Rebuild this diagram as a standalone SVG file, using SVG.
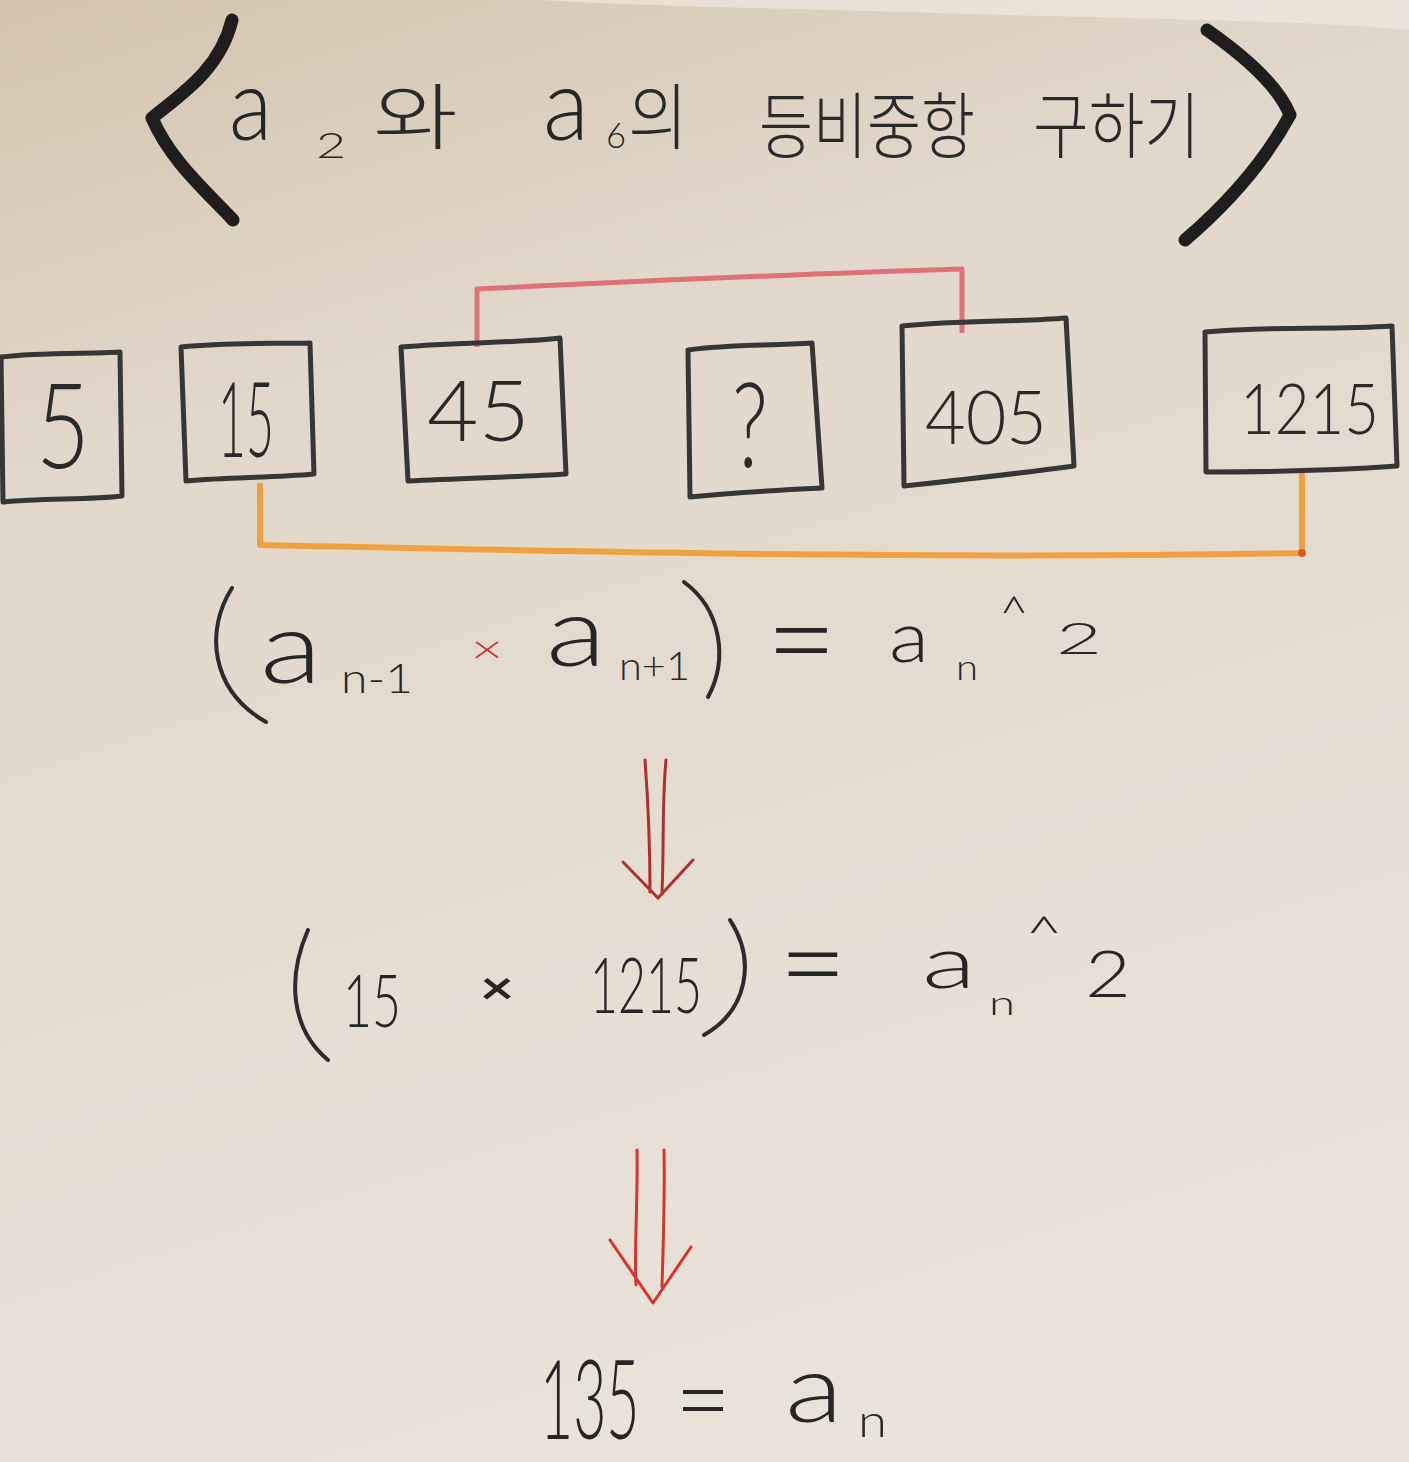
<svg xmlns="http://www.w3.org/2000/svg" width="1409" height="1462" viewBox="0 0 1409 1462">
<defs>
<linearGradient id="paper" x1="0" y1="0" x2="0.3" y2="1">
<stop offset="0" stop-color="#d4c4ae"/>
<stop offset="0.3" stop-color="#e1d7ca"/>
<stop offset="1" stop-color="#e9e2d9"/>
</linearGradient>
<style>
.box{fill:none;stroke:#363636;stroke-width:5;stroke-linejoin:round}
.num{font-family:"Lato","Liberation Sans",sans-serif;font-weight:300;fill:#2a2a2a}
.ko{font-family:"Noto Sans CJK KR",sans-serif;font-weight:300;font-size:72px;fill:#2a2a2a}
.eq{font-family:"Lato","Liberation Sans",sans-serif;font-weight:300;fill:#262626}
.red{fill:#c8342c}
.bold{font-weight:700}
.brk{fill:none;stroke:#1e1e1e;stroke-width:13;stroke-linecap:round;stroke-linejoin:round}
.paren{fill:none;stroke:#2c2c2c;stroke-width:4;stroke-linecap:round}
.arr{fill:none;stroke-width:3;stroke-linecap:round;stroke-linejoin:round}
</style>
</defs>
<rect width="1409" height="1462" fill="url(#paper)"/>
<path d="M540 0 H1409 V30 C1300 20 1100 18 900 12 C760 8 640 6 540 0Z" fill="#efe8e0" opacity="0.7"/>

<g id="title">
<path class="brk" d="M232 20 C220 70 180 95 152 118 C170 160 205 190 233 220"/>
<path class="brk" d="M1207 30 C1250 60 1280 90 1290 115 C1260 170 1220 210 1185 240"/>
<text class="eq" x="229" y="140" font-size="100" textLength="43" lengthAdjust="spacingAndGlyphs">a</text>
<text class="eq" x="316" y="158" font-size="36" textLength="30" lengthAdjust="spacingAndGlyphs">2</text>
<text class="ko" x="373" y="143" textLength="85" lengthAdjust="spacingAndGlyphs">와</text>
<text class="eq" x="543" y="140" font-size="100" textLength="46" lengthAdjust="spacingAndGlyphs">a</text>
<text class="eq" x="606" y="148" font-size="36" textLength="20" lengthAdjust="spacingAndGlyphs">6</text>
<text class="ko" x="628" y="143" textLength="60" lengthAdjust="spacingAndGlyphs">의</text>
<text class="ko" x="759" y="152" textLength="216" lengthAdjust="spacingAndGlyphs">등비중항</text>
<text class="ko" x="1033" y="152" textLength="167" lengthAdjust="spacingAndGlyphs">구하기</text>
</g>

<g id="connectors">
<path d="M477 347 V289 C600 283 800 274 962 269 V333" fill="none" stroke="#e0707a" stroke-width="5" stroke-linejoin="round"/>
<path d="M260 483 V545 C500 550 900 560 1302 553 V468" fill="none" stroke="#f0a040" stroke-width="6" stroke-linejoin="round"/>
<circle cx="1302" cy="553" r="4" fill="#d85a20"/>
</g>

<g id="n5">
<path class="box" d="M1 357 C40 352 90 354 120 352 L122 496 C90 500 40 498 3 502 Z"/>
<text class="num" x="36" y="468" font-size="118" textLength="54" lengthAdjust="spacingAndGlyphs">5</text>
</g>
<g id="n15">
<path class="box" d="M181 347 C230 342 270 344 310 343 L314 474 C270 478 230 477 186 481 Z"/>
<text class="num" x="218" y="457" font-size="104" textLength="56" lengthAdjust="spacingAndGlyphs">15</text>
</g>
<g id="n45">
<path class="box" d="M401 347 C460 342 520 343 560 338 L566 474 C520 477 460 478 408 481 Z"/>
<text class="num" x="427" y="441" font-size="84" textLength="103" lengthAdjust="spacingAndGlyphs">45</text>
</g>
<g id="nq">
<path class="box" d="M688 350 C730 344 770 346 812 343 L822 488 C780 490 730 493 690 497 Z"/>
<text class="num" x="732" y="467" font-size="118" textLength="36" lengthAdjust="spacingAndGlyphs">?</text>
</g>
<g id="n405">
<path class="box" d="M902 326 C960 320 1020 322 1066 318 L1074 466 C1030 472 960 480 904 486 Z"/>
<text class="num" x="925" y="444" font-size="74" textLength="122" lengthAdjust="spacingAndGlyphs">405</text>
</g>
<g id="n1215">
<path class="box" d="M1205 332 C1270 326 1330 330 1392 326 L1397 466 C1340 470 1270 472 1206 472 Z"/>
<text class="num" x="1240" y="434" font-size="70" textLength="139" lengthAdjust="spacingAndGlyphs">1215</text>
</g>

<g id="eq1">
<path class="paren" d="M232 588 C205 630 210 690 266 722"/>
<text class="eq" x="260" y="683" font-size="100" textLength="62" lengthAdjust="spacingAndGlyphs">a</text>
<text class="eq" x="341" y="693" font-size="42" textLength="72" lengthAdjust="spacingAndGlyphs">n-1</text>
<text class="eq red" x="471" y="663" font-size="40" textLength="32" lengthAdjust="spacingAndGlyphs">×</text>
<text class="eq" x="546" y="666" font-size="96" textLength="60" lengthAdjust="spacingAndGlyphs">a</text>
<text class="eq" x="619" y="680" font-size="40" textLength="71" lengthAdjust="spacingAndGlyphs">n+1</text>
<path class="paren" d="M684 582 C722 610 728 660 708 697" stroke-width="4.5"/>
<text class="eq" x="766" y="684" font-size="130" textLength="71" lengthAdjust="spacingAndGlyphs">=</text>
<text class="eq" x="889" y="662" font-size="70" textLength="40" lengthAdjust="spacingAndGlyphs">a</text>
<text class="eq" x="956" y="680" font-size="36" textLength="22" lengthAdjust="spacingAndGlyphs">n</text>
<text class="eq" x="999" y="630" font-size="48" textLength="30" lengthAdjust="spacingAndGlyphs">^</text>
<text class="eq" x="1056" y="654" font-size="44" textLength="46" lengthAdjust="spacingAndGlyphs">2</text>
</g>

<g id="arrow1">
<path class="arr" stroke="#b32f2a" d="M645 760 C648 800 650 850 650 892 M666 760 C662 800 664 850 662 892 M623 862 L658 898 L693 860"/>
</g>

<g id="eq2">
<path class="paren" d="M308 930 C286 980 292 1030 328 1060"/>
<text class="eq" x="343" y="1027" font-size="72" textLength="58" lengthAdjust="spacingAndGlyphs">15</text>
<text class="eq bold" x="480" y="1004" font-size="46" textLength="34" lengthAdjust="spacingAndGlyphs">×</text>
<text class="eq" x="590" y="1013" font-size="76" textLength="112" lengthAdjust="spacingAndGlyphs">1215</text>
<path class="paren" d="M730 920 C756 960 748 1010 704 1035"/>
<text class="eq" x="779" y="1005" font-size="120" textLength="68" lengthAdjust="spacingAndGlyphs">=</text>
<text class="eq" x="922" y="988" font-size="72" textLength="54" lengthAdjust="spacingAndGlyphs">a</text>
<text class="eq" x="989" y="1015" font-size="34" textLength="26" lengthAdjust="spacingAndGlyphs">n</text>
<text class="eq" x="1025" y="950" font-size="48" textLength="38" lengthAdjust="spacingAndGlyphs">^</text>
<text class="eq" x="1085" y="997" font-size="66" textLength="46" lengthAdjust="spacingAndGlyphs">2</text>
</g>

<g id="arrow2">
<path class="arr" stroke="#d8352a" d="M637 1150 C638 1200 634 1250 636 1285 M664 1150 C665 1200 663 1250 662 1287 M610 1240 L653 1303 L691 1247"/>
</g>

<g id="eq3">
<text class="eq" transform="translate(540 1439) scale(0.52 1)" font-size="110">135</text>
<text class="eq" x="675" y="1438" font-size="110" textLength="56" lengthAdjust="spacingAndGlyphs">=</text>
<text class="eq" x="785" y="1422" font-size="94" textLength="58" lengthAdjust="spacingAndGlyphs">a</text>
<text class="eq" x="858" y="1437" font-size="46" textLength="29" lengthAdjust="spacingAndGlyphs">n</text>
</g>
</svg>
